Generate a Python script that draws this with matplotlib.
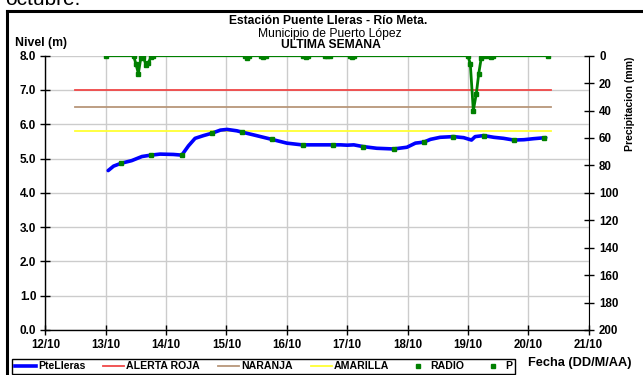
import matplotlib
matplotlib.use("Agg")
import matplotlib.pyplot as plt
from matplotlib.lines import Line2D
import numpy as np

plt.rcParams["font.family"] = ["Liberation Sans", "DejaVu Sans"]

# x values are day-of-month (October) with fractional hours
day_ticks = [12, 13, 14, 15, 16, 17, 18, 19, 20, 21]
day_labels = ["12/10", "13/10", "14/10", "15/10", "16/10",
              "17/10", "18/10", "19/10", "20/10", "21/10"]

# River level, Puente Lleras station (m)
level_t = [13.04, 13.13, 13.25, 13.43, 13.60, 13.75, 13.90, 14.12, 14.26, 14.37,
           14.48, 14.62, 14.76, 14.90, 15.01, 15.17, 15.26, 15.45, 15.75, 16.00,
           16.25, 16.55, 16.78, 16.89, 17.00, 17.11, 17.26, 17.49, 17.77, 17.99,
           18.13, 18.27, 18.38, 18.54, 18.76, 18.93, 19.06, 19.12, 19.26, 19.43,
           19.59, 19.76, 19.93, 20.09, 20.29]
level_m = [4.65, 4.78, 4.86, 4.94, 5.06, 5.10, 5.13, 5.12, 5.10, 5.37,
           5.59, 5.67, 5.74, 5.83, 5.85, 5.81, 5.77, 5.69, 5.56, 5.45,
           5.40, 5.40, 5.40, 5.40, 5.39, 5.40, 5.35, 5.30, 5.28, 5.33,
           5.45, 5.48, 5.56, 5.62, 5.64, 5.61, 5.54, 5.64, 5.67, 5.62,
           5.59, 5.54, 5.55, 5.58, 5.61]

# Radio readings of level (m)
radio_t = [13.25, 13.75, 14.26, 14.76, 15.26, 15.75, 16.26, 16.76,
           17.26, 17.77, 18.27, 18.76, 19.26, 19.76, 20.26]
radio_m = [4.86, 5.10, 5.10, 5.74, 5.77, 5.56, 5.40, 5.40,
           5.35, 5.28, 5.48, 5.64, 5.67, 5.54, 5.61]

# Hourly precipitation (mm)
precip_t = [13.00, 13.46, 13.50, 13.54, 13.58, 13.625, 13.667, 13.708, 13.75, 13.79,
            15.30, 15.34, 15.38, 15.57, 15.61, 15.65, 16.27, 16.31, 16.35,
            16.63, 16.67, 16.71, 17.04, 17.08, 17.12,
            19.00, 19.04, 19.09, 19.14, 19.18, 19.22, 19.26, 19.34, 19.38, 19.42, 20.33]
precip_mm = [0, 0, 6, 13, 2, 1, 7, 5, 1, 0,
             0, 1.5, 0, 0, 1, 0, 0, 1, 0,
             0, 0.5, 0, 0, 1, 0,
             0, 6, 40, 27.6, 13, 2, 0, 0, 1, 0, 0]

# Alert thresholds (m) and the period over which they are drawn
alert_t = [12.49, 20.37]
alerta_roja = 7.0
naranja = 6.5
amarilla = 5.8

W, H = 643, 375
fig = plt.figure(figsize=(W / 100, H / 100), dpi=100)
ax = fig.add_axes([45.4 / W, 1 - 330 / H, (588.6 - 45.4) / W, (330 - 55.7) / H])

green = "#008000"
ax.plot(alert_t, [alerta_roja] * 2, color="#f04848", lw=1.3, zorder=3)
ax.plot(alert_t, [naranja] * 2, color="#b8967a", lw=1.3, zorder=3)
ax.plot(alert_t, [amarilla] * 2, color="#ffff33", lw=1.3, zorder=3)
ax.plot(level_t, level_m, color="#0000ff", lw=2.6, zorder=4, solid_capstyle="round")
ax.plot(radio_t, radio_m, ls="none", marker="s", ms=3, color=green, zorder=5)

ax.set_xlim(12, 21)
ax.set_ylim(0, 8)
ax.set_xticks(day_ticks)
ax.set_xticklabels(day_labels)
ax.set_yticks(np.arange(0, 8.1, 1.0))
ax.set_yticklabels([f"{v:.1f}" for v in np.arange(0, 8.1, 1.0)])
ax.grid(True, color="#cccccc", lw=1.0, zorder=0)
ax.set_axisbelow(True)
ax.spines["top"].set_visible(False)
ax.spines["right"].set_visible(False)
for s in ("left", "bottom"):
    ax.spines[s].set_color("black")
    ax.spines[s].set_linewidth(1.0)
ax.tick_params(axis="both", direction="inout", length=7, width=1, colors="black", pad=3)
ax.tick_params(axis="x", labelsize=8.3)
ax.tick_params(axis="y", labelsize=8.5)
for lbl in ax.get_xticklabels() + ax.get_yticklabels():
    lbl.set_fontweight("bold")

ax2 = ax.twinx()
ax2.plot(precip_t, precip_mm, color=green, lw=2.0, marker="s", ms=2.2, zorder=3)
ax2.set_ylim(200, 0)
ax2.set_yticks(np.arange(0, 201, 20))
ax2.spines["top"].set_visible(False)
ax2.spines["left"].set_visible(False)
ax2.spines["bottom"].set_visible(False)
ax2.spines["right"].set_color("black")
ax2.tick_params(axis="y", direction="inout", length=7, width=1, labelsize=8.3, pad=4)
for lbl in ax2.get_yticklabels():
    lbl.set_fontweight("bold")

# Titles and axis captions
fig.text(328 / W, 1 - 21.5 / H, "Estación Puente Lleras - Río Meta.", ha="center", va="center",
         fontsize=8.7, fontweight="bold")
fig.text(330 / W, 1 - 33.5 / H, "Municipio de Puerto López", ha="center", va="center", fontsize=8.7)
fig.text(331 / W, 1 - 45 / H, "ULTIMA SEMANA", ha="center", va="center",
         fontsize=8.7, fontweight="bold")
fig.text(15 / W, 1 - 43 / H, "Nivel (m)", ha="left", va="center", fontsize=8.8, fontweight="bold")
fig.text(630 / W, 1 - 104 / H, "Precipitacion (mm)", ha="center", va="center", rotation=90,
         fontsize=7.6, fontweight="bold")
fig.text(528 / W, 1 - 363 / H, "Fecha (DD/M/AA)", ha="left", va="center",
         fontsize=9.2, fontweight="bold")
fig.text(5 / W, 1 - 5 / H, "octubre.", ha="left", va="baseline", fontsize=15)

# Outer frame
fig.add_artist(Line2D([7 / W, 1], [1 - 11 / H] * 2, color="black", lw=2.2))
fig.add_artist(Line2D([7 / W] * 2, [0, 1 - 11 / H], color="black", lw=2.2))

# Legend
handles = [
    Line2D([], [], color="#0000ff", lw=2.6),
    Line2D([], [], color="#f04848", lw=1.3),
    Line2D([], [], color="#b8967a", lw=1.3),
    Line2D([], [], color="#ffff33", lw=1.3),
    Line2D([], [], ls="none", marker="s", ms=2.5, color=green),
    Line2D([], [], ls="none", marker="s", ms=2.5, color=green),
]
names = ["PteLleras", "ALERTA ROJA", "NARANJA", "AMARILLA", "RADIO", "P"]
leg = fig.legend(handles, names, loc="lower left", ncol=6, mode="expand",
                 bbox_to_anchor=(12 / W, 1 / H, (515 - 12) / W, 18 / H),
                 frameon=True, fancybox=False, edgecolor="black", framealpha=1,
                 handlelength=2.0, handletextpad=0.2, columnspacing=0.6,
                 borderpad=0.25, borderaxespad=0,
                 prop={"size": 7.6, "weight": "bold"})
leg.get_frame().set_linewidth(1.0)

fig.savefig("out.png", dpi=100)
